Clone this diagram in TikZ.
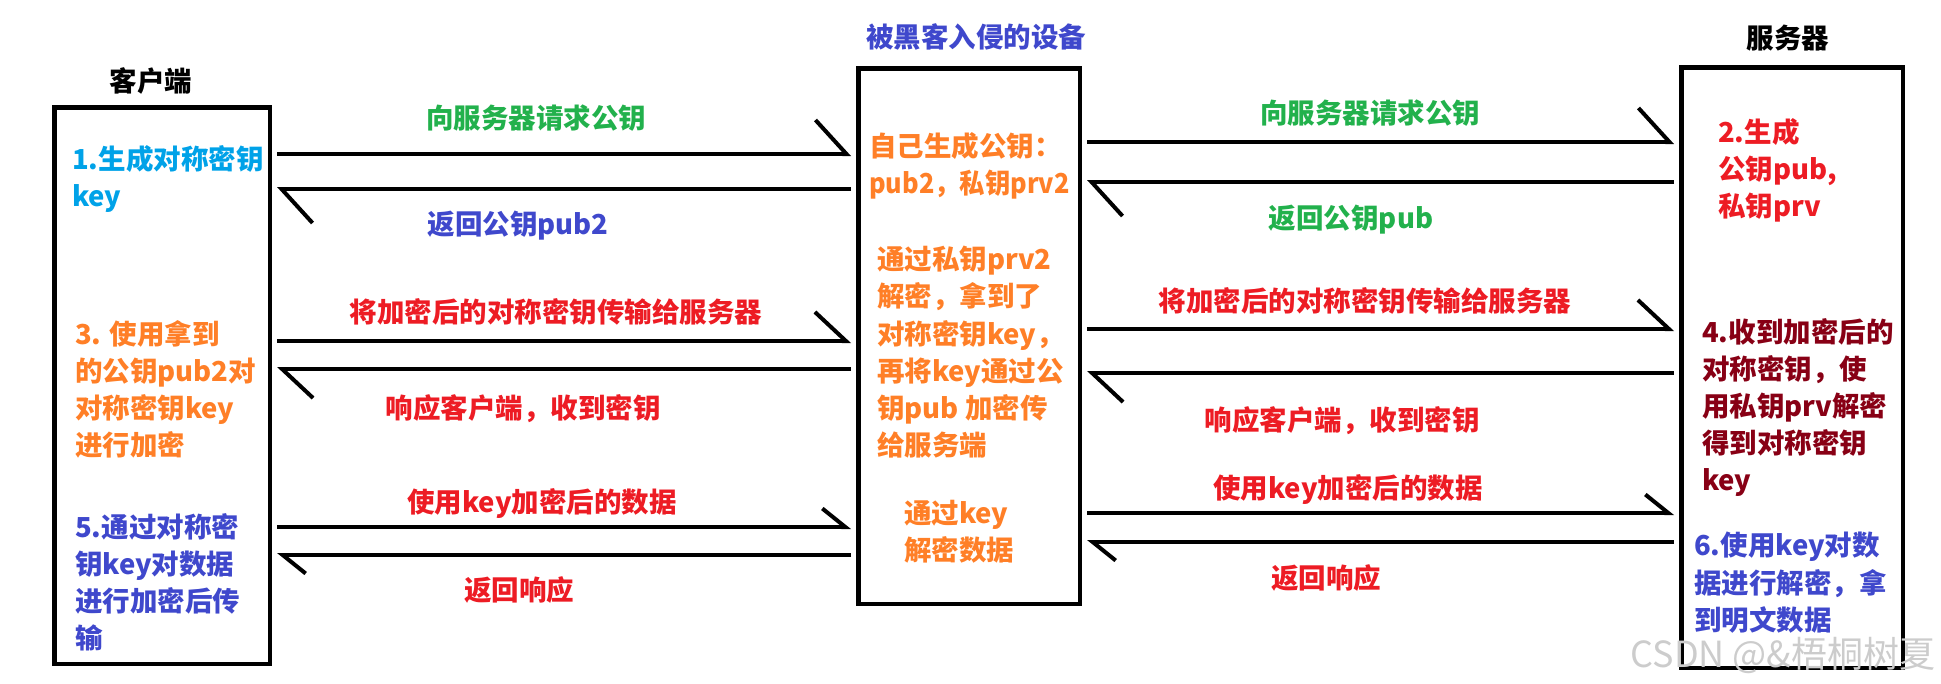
\documentclass[tikz,border=0pt]{standalone}
\usepackage{fontspec}
\usepackage{xcolor}
\usepackage{tikz}
\usetikzlibrary{arrows.meta}
\newfontfamily\cjk{Noto Sans CJK SC}
\definecolor{pcyan}{HTML}{00A2E8}
\definecolor{porange}{HTML}{FF7F27}
\definecolor{pblue}{HTML}{3F48CC}
\definecolor{pgreen}{HTML}{22B14C}
\definecolor{pred}{HTML}{ED1C24}
\definecolor{pdark}{HTML}{880015}
\tikzstyle{box} = [rectangle, draw=black, line width=4.5pt, inner sep=0pt, minimum width=221.5pt]
\tikzstyle{head} = [inner sep=0pt, font=\fontsize{27.5pt}{37.2pt}\cjk\bfseries]
\tikzstyle{txt} = [head, align=left, anchor=north west]
\tikzstyle{msg} = [line width=4pt, shorten <=5pt, shorten >=5pt]
\tikzstyle{tipa} = [msg, -{Straight Barb[left, length=31pt, width=68pt]}]
\tikzstyle{tipb} = [msg, -{Straight Barb[left, length=31pt, width=58pt]}]
\tikzstyle{tipc} = [msg, -{Straight Barb[left, length=23pt, width=37pt]}]

\begin{document}
\begin{tikzpicture}[x=1pt, y=-1pt]
	\useasboundingbox (0,0) rectangle (1941,683);
	
	\node (cli) [box, minimum width=215.5pt, minimum height=556.5pt] at (162,385.5) {};
	\node (dev) [box, minimum height=535.5pt] at (969,336) {};
	\node (srv) [box, minimum height=600.5pt] at (1792,367.5) {};
	
	\node (hc) [head] at (151,81) {客户端};
	\node (hd) [head, text=pblue] at (976,37) {被黑客入侵的设备};
	\node (hs) [head] at (1788,38.5) {服务器};
	
	\node (c1) [txt, text=pcyan] at (72,145) {1.生成对称密钥\\key};
	\node (c3) [txt, text=porange] at (75,320) {3. 使用拿到\\的公钥pub2对\\对称密钥key\\进行加密};
	\node (c5) [txt, text=pblue] at (75,513) {5.通过对称密\\钥key对数据\\进行加密后传\\输};
	
	\node (d1) [txt, text=porange] at (869,132) {自己生成公钥：\\{\addfontfeature{FakeStretch=0.92}pub2，私钥prv2}};
	\node (d2) [txt, text=porange] at (877,246) {通过私钥prv2\\解密，拿到了\\对称密钥key，\\再将key通过公\\钥pub 加密传\\给服务端};
	\node (d3) [txt, text=porange] at (904,500) {通过key\\解密数据};
	
	\node (s2) [txt, text=pred] at (1718,118) {2.生成\\公钥pub,\\私钥prv};
	\node (s4) [txt, text=pdark] at (1702,318) {4.收到加密后的\\对称密钥，使\\用私钥prv解密\\得到对称密钥\\key};
	\node (s6) [txt, text=pblue] at (1694,532) {6.使用key对数\\据进行解密，拿\\到明文数据};
	
	\draw [tipa] (cli.east |- 0,154) -- (dev.west |- 0,154);
	\draw [tipa] (dev.west |- 0,189) -- (cli.east |- 0,189);
	\draw [tipb] (cli.east |- 0,341) -- (dev.west |- 0,341);
	\draw [tipb] (dev.west |- 0,369) -- (cli.east |- 0,369);
	\draw [tipc] (cli.east |- 0,527) -- (dev.west |- 0,527);
	\draw [tipc] (dev.west |- 0,555) -- (cli.east |- 0,555);
	
	\node (l1) [head, text=pgreen] at (536,118) {向服务器请求公钥};
	\node (l2) [head, text=pblue] at (518,226) {返回公钥pub2};
	\node (l3) [head, text=pred] at (556,312) {将加密后的对称密钥传输给服务器};
	\node (l4) [head, text=pred] at (523,409) {响应客户端，收到密钥};
	\node (l5) [head, text=pred] at (542,504) {使用key加密后的数据};
	\node (l6) [head, text=pred] at (519,590) {返回响应};
	
	\draw [tipa] (dev.east |- 0,142) -- (srv.west |- 0,142);
	\draw [tipa] (srv.west |- 0,182) -- (dev.east |- 0,182);
	\draw [tipb] (dev.east |- 0,329) -- (srv.west |- 0,329);
	\draw [tipb] (srv.west |- 0,373) -- (dev.east |- 0,373);
	\draw [tipc] (dev.east |- 0,513) -- (srv.west |- 0,513);
	\draw [tipc] (srv.west |- 0,542) -- (dev.east |- 0,542);
	
	\node (r1) [head, text=pgreen] at (1370,113) {向服务器请求公钥};
	\node (r2) [head, text=pgreen] at (1351,220) {返回公钥pub};
	\node (r3) [head, text=pred] at (1365,301) {将加密后的对称密钥传输给服务器};
	\node (r4) [head, text=pred] at (1342,421) {响应客户端，收到密钥};
	\node (r5) [head, text=pred] at (1348,490) {使用key加密后的数据};
	\node (r6) [head, text=pred] at (1326,578) {返回响应};
	
	\node (wm) [inner sep=0pt, font=\fontsize{36pt}{36pt}\cjk, text=gray!40] at (1783,655) {CSDN @\&梧桐树夏};
	
\end{tikzpicture}
\end{document}
